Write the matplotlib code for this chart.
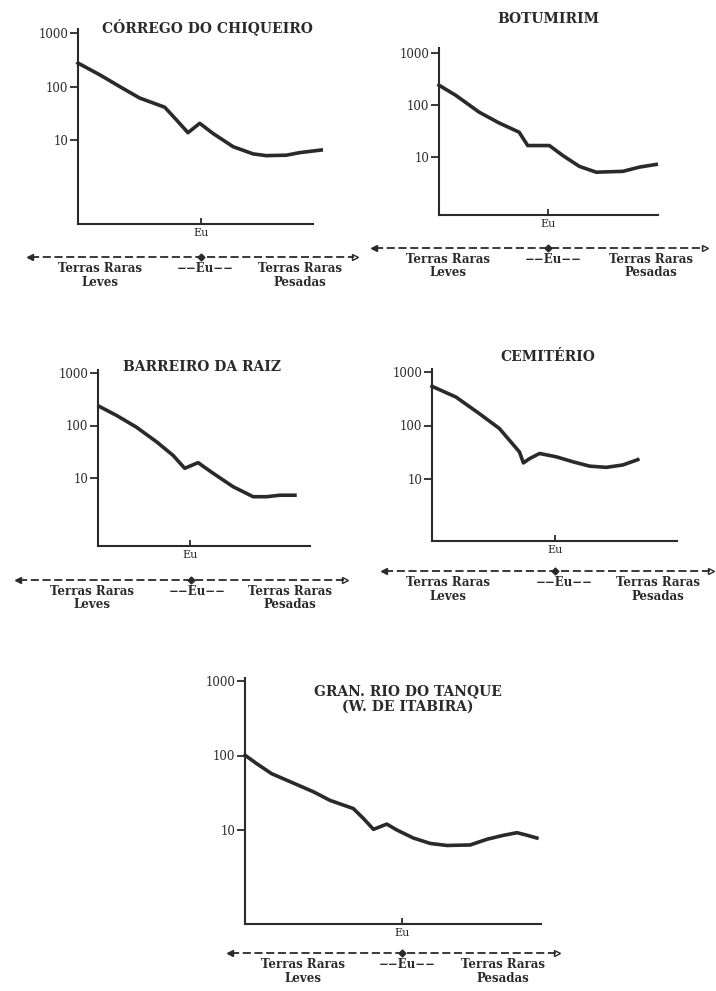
import numpy as np
import matplotlib
matplotlib.use("Agg")
import matplotlib.pyplot as plt

plt.rcParams['font.family'] = ['DejaVu Serif']

# chondrite-normalised REE patterns, x = position along the REE axis (0 = La, 1 = end of axis)
titles = ["CÓRREGO DO CHIQUEIRO", "BOTUMIRIM", "BARREIRO DA RAIZ", "CEMITÉRIO",
          "GRAN. RIO DO TANQUE\n(W. DE ITABIRA)"]

x_chiqueiro = [0, 0.092, 0.177, 0.262, 0.369, 0.418, 0.468, 0.518, 0.574, 0.66, 0.745, 0.801, 0.887, 0.943, 1.035]
y_chiqueiro = [274, 166, 100, 61, 41, 24, 13.7, 20.5, 13.3, 7.5, 5.5, 5.1, 5.2, 5.8, 6.5]

x_botumirim = [0, 0.076, 0.183, 0.275, 0.366, 0.405, 0.504, 0.565, 0.641, 0.718, 0.84, 0.916, 0.992]
y_botumirim = [240, 154, 73, 45, 30, 16.6, 16.6, 10.7, 6.6, 5.1, 5.3, 6.4, 7.2]

x_barreiro = [0.005, 0.087, 0.181, 0.276, 0.354, 0.409, 0.472, 0.543, 0.638, 0.732, 0.795, 0.858, 0.929]
y_barreiro = [232, 156, 93, 49, 27, 15.3, 19.6, 12.3, 6.8, 4.4, 4.4, 4.7, 4.7]

x_cemiterio = [0, 0.098, 0.193, 0.275, 0.357, 0.373, 0.398, 0.439, 0.507, 0.575, 0.643, 0.711, 0.779, 0.84]
y_cemiterio = [540, 340, 167, 88, 32, 20, 24, 30, 26, 21, 17.4, 16.5, 18.3, 23]

x_tanque = [0, 0.039, 0.09, 0.152, 0.231, 0.287, 0.366, 0.4, 0.434, 0.479, 0.513, 0.569, 0.626, 0.682,
            0.761, 0.817, 0.874, 0.919, 0.953, 0.986]
y_tanque = [101, 78, 57, 44.6, 32.6, 25, 19.4, 14.3, 10.2, 12, 10, 7.8, 6.6, 6.2, 6.3, 7.5, 8.5, 9.2, 8.5, 7.8]

series = [(x_chiqueiro, y_chiqueiro), (x_botumirim, y_botumirim), (x_barreiro, y_barreiro),
          (x_cemiterio, y_cemiterio), (x_tanque, y_tanque)]
eu_pos = [0.522, 0.496, 0.436, 0.503, 0.53]
y_ticks = [10, 100, 1000]

# layout in pixels: left, right, top, bottom, y of 1000 tick, px per decade
W, H = 716, 991
boxes = [(78, 313, 29, 224, 33, 53.5),
         (439, 658, 48, 215, 53, 52),
         (98, 310, 370, 546, 373, 52.5),
         (432, 677, 369, 541, 372, 53.5),
         (245, 541, 678, 924, 681, 74.5)]
title_pos = [(207, 27), (548, 19), (202, 367), (548, 357), (408, 699)]
# dashed REE arrow: x start, x end, y, x of Eu mark, label centres (left, mid, right)
arrows = [(27, 358, 257, 201, 100, 205, 300),
          (371, 708, 248, 548, 448, 553, 651),
          (15, 348, 580, 191, 92, 197, 290),
          (381, 714, 571, 555, 448, 564, 658),
          (227, 560, 953, 402, 303, 407, 503)]

ink = '#2a2a2a'
fig = plt.figure(figsize=(W / 100, H / 100), dpi=100)

for i, (xs, ys) in enumerate(series):
    l, r, t, b, y1000, dec = boxes[i]
    ax = fig.add_axes([l / W, 1 - b / H, (r - l) / W, (b - t) / H])
    ax.set_yscale('log')
    ax.set_ylim(10 ** (3 - (b - y1000) / dec), 10 ** (3 + (y1000 - t) / dec))
    ax.set_xlim(0, 1)
    ax.plot(xs, ys, color=ink, lw=2.6, solid_joinstyle='round', clip_on=False)
    for s in ['top', 'right']:
        ax.spines[s].set_visible(False)
    for s in ['left', 'bottom']:
        ax.spines[s].set_linewidth(1.5)
        ax.spines[s].set_color(ink)
    ax.set_yticks(y_ticks)
    ax.set_yticklabels([str(v) for v in y_ticks])
    ax.yaxis.set_minor_locator(matplotlib.ticker.NullLocator())
    ax.tick_params(axis='y', direction='out', length=6, width=1.3, pad=1, labelsize=8.5, colors=ink)
    ax.set_xticks([eu_pos[i]])
    ax.set_xticklabels(['Eu'])
    ax.tick_params(axis='x', direction='in', length=4, width=1.3, pad=3, labelsize=8, colors=ink)
    ax.set_facecolor('none')

ov = fig.add_axes([0, 0, 1, 1])
ov.set_xlim(0, W)
ov.set_ylim(H, 0)
ov.axis('off')
ov.set_zorder(-1)

for i, (x0, x1, y, xe, cl, cm, cr) in enumerate(arrows):
    tx, ty = title_pos[i]
    ov.text(tx, ty, titles[i], ha='center', va='center', fontsize=10, fontweight='bold',
            color=ink, linespacing=1.1)
    ov.plot([x0 + 4, x1 - 4], [y, y], color=ink, lw=1.3, ls=(0, (4.5, 2)))
    ov.plot([x0 + 3], [y], marker='<', ms=4, color=ink)
    ov.plot([x1 - 3], [y], marker='>', ms=4, mfc='none', mec=ink, mew=1)
    ov.plot([xe], [y], marker='D', ms=3.5, color=ink)
    ov.text(cl, y + 5, "Terras Raras\nLeves", ha='center', va='top', fontsize=8.5,
            fontweight='bold', color=ink, linespacing=1.05)
    ov.text(cm, y + 5, "−−Eu−−", ha='center', va='top', fontsize=8.5, fontweight='bold', color=ink)
    ov.text(cr, y + 5, "Terras Raras\nPesadas", ha='center', va='top', fontsize=8.5,
            fontweight='bold', color=ink, linespacing=1.05)

fig.savefig('out.png', dpi=100, facecolor='white')
